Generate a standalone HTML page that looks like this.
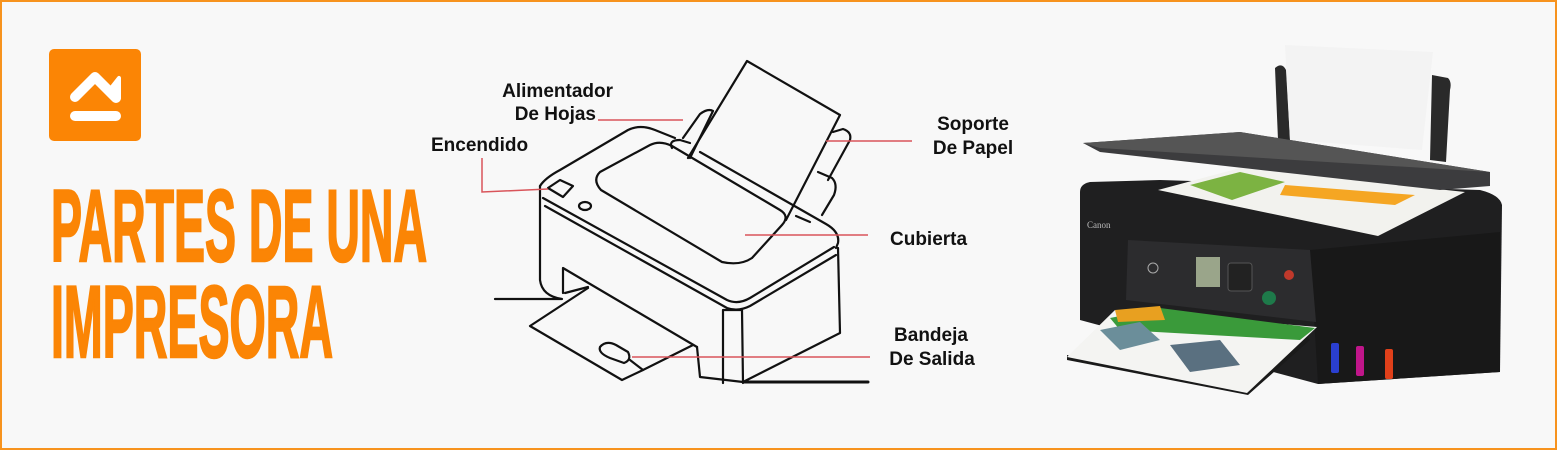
<!DOCTYPE html>
<html><head><meta charset="utf-8"><style>
html,body{margin:0;padding:0;background:#f8f8f8}
svg{display:block}
.lb{font-family:"Liberation Sans",sans-serif;font-weight:bold;font-size:19px;fill:#111}
</style></head><body>
<svg width="1557" height="450" viewBox="0 0 1557 450" xmlns="http://www.w3.org/2000/svg">
<rect x="1" y="1" width="1555" height="448" fill="#f8f8f8" stroke="#f7931e" stroke-width="2"/>
<!-- logo -->
<rect x="49" y="49" width="92" height="92" rx="5" fill="#fb8505"/>
<path d="M75 97 L95 77 L116 98" fill="none" stroke="#fff" stroke-width="10" stroke-linecap="round" stroke-linejoin="round"/>
<path d="M119 78 L119 98 L108 92 Z" fill="#fff" stroke="#fff" stroke-width="4" stroke-linejoin="round"/>
<line x1="75" y1="116" x2="116" y2="116" stroke="#fff" stroke-width="10" stroke-linecap="round"/>
<!-- title -->
<text x="51" y="261" textLength="376" lengthAdjust="spacingAndGlyphs" font-family="Liberation Sans Narrow, Liberation Sans, sans-serif" font-weight="bold" font-size="102" fill="#fb8505" stroke="#fb8505" stroke-width="2.5">PARTES DE UNA</text>
<text x="51" y="357" textLength="282" lengthAdjust="spacingAndGlyphs" font-family="Liberation Sans Narrow, Liberation Sans, sans-serif" font-weight="bold" font-size="102" fill="#fb8505" stroke="#fb8505" stroke-width="2.5">IMPRESORA</text>

<!-- line drawing printer -->
<g fill="none" stroke="#111" stroke-width="2.2" stroke-linejoin="round" stroke-linecap="round">
<path d="M688 158 L747 61 L840 115 L786 220"/>
<path d="M683 138 L700 114 Q708 108 713 111 L690 158"/>
<path d="M672 148 Q668 140 680 140 L690 143"/>
<path d="M833 132 L843 129 Q852 132 850 140 L828 180"/>
<path d="M818 172 L832 178 Q838 184 834 195 L822 215"/>
<path d="M796 216 L810 222"/>
<path d="M540 186 Q545 178 560 170 L628 130 Q640 124 655 130 L675 138"/>
<path d="M700 152 L826 224 Q840 232 838 243 L836 248"/>
<path d="M543 198 L727 300 Q738 305 750 298 L834 247"/>
<path d="M545 206 L727 308 Q738 312 750 306 L836 255"/>
<path d="M601 190 Q592 180 600 172 L650 145 Q660 140 672 146 L780 210 Q790 216 782 225 L752 258 Q740 266 722 262 Z"/>
<path d="M548 188 L560 180 L573 186 L563 197 Z"/>
<ellipse cx="585" cy="206" rx="6" ry="4"/>
<path d="M540 186 L540 280 Q542 296 562 299 L495 299"/>
<path d="M563 293 L563 268 L697 347"/>
<path d="M565 293 L588 287"/>
<path d="M588 288 L530 326 L622 380 L643 370 L693 345"/>
<path d="M600 347 Q606 340 616 345 L628 352 Q632 360 624 363 L610 358 Q598 353 600 347 Z"/>
<path d="M643 370 L630 360"/>
<path d="M838 248 L840 333 L743 382 L700 377 L697 347"/>
<path d="M723 383 L723 310 L742 310 L743 383"/>
<path d="M743 382 L868 382" stroke-width="3"/>
</g>
<g stroke="#d9545a" stroke-width="1.5" fill="none">
<path d="M598 120 L683 120"/>
<path d="M482 158 L482 192 L548 189"/>
<path d="M826 141 L912 141"/>
<path d="M745 235 L868 235"/>
<path d="M632 357 L870 357"/>
</g>
<text class="lb" x="613" y="97" text-anchor="end">Alimentador</text>
<text class="lb" x="596" y="120" text-anchor="end">De Hojas</text>
<text class="lb" x="431" y="151">Encendido</text>
<text class="lb" x="973" y="130" text-anchor="middle">Soporte</text>
<text class="lb" x="973" y="154" text-anchor="middle">De Papel</text>
<text class="lb" x="890" y="245">Cubierta</text>
<text class="lb" x="931" y="341" text-anchor="middle">Bandeja</text>
<text class="lb" x="932" y="365" text-anchor="middle">De Salida</text>

<!-- photo printer -->
<g>
<path d="M1275 68 Q1282 62 1286 70 L1290 140 L1278 140 Z" fill="#2a2a2a"/>
<path d="M1432 75 L1448 78 Q1452 82 1450 90 L1446 162 L1430 160 Z" fill="#2a2a2a"/>
<path d="M1285 45 L1433 52 L1422 150 L1290 140 Z" fill="#f3f3f3"/>
<path d="M1080 192 Q1080 184 1090 182 L1160 180 L1480 190 Q1500 195 1502 205 L1500 372 L1318 384 L1080 320 Z" fill="#1f1f20"/>
<path d="M1310 250 L1500 232 L1500 372 L1318 384 Z" fill="#181818"/>
<path d="M1158 190 L1240 168 L1465 192 L1378 236 Z" fill="#f2f2ee"/>
<path d="M1190 185 L1240 172 L1285 182 L1232 200 Z" fill="#7cb342"/>
<path d="M1285 185 L1415 195 L1395 205 L1280 195 Z" fill="#f5a623"/>
<path d="M1083 143 L1240 132 L1490 172 L1490 186 L1440 190 L1100 152 Z" fill="#3c3c3e"/>
<path d="M1083 143 L1240 132 L1490 172 L1100 148 Z" fill="#555"/>
<path d="M1128 240 L1310 250 L1316 322 L1126 300 Z" fill="#2c2c2e"/>
<rect x="1196" y="257" width="24" height="30" fill="#9aa58a"/>
<circle cx="1153" cy="268" r="5" fill="none" stroke="#aaa" stroke-width="1"/>
<circle cx="1289" cy="275" r="5" fill="#c0392b"/>
<circle cx="1269" cy="298" r="7" fill="#1e7a4a"/>
<rect x="1228" y="263" width="24" height="28" rx="3" fill="#222" stroke="#555"/>
<text x="1087" y="228" font-family="Liberation Serif,serif" font-size="9" fill="#bbb">Canon</text>
<path d="M1067 360 L1248 395 L1310 340 L1305 335 L1240 390 L1067 355 Z" fill="#1a1a1a"/>
<path d="M1067 357 L1115 310 L1317 327 L1247 393 Z" fill="#f4f4f2"/>
<path d="M1110 318 L1160 308 L1315 328 L1300 340 L1120 330 Z" fill="#3a9a3a"/>
<path d="M1100 330 L1140 322 L1160 340 L1120 350 Z" fill="#6b8e9a"/>
<path d="M1170 345 L1220 340 L1240 365 L1190 372 Z" fill="#5a7080"/>
<path d="M1115 310 L1160 306 L1165 320 L1118 322 Z" fill="#e8a020"/>
<rect x="1331" y="343" width="8" height="30" rx="2" fill="#2a3fd0"/>
<rect x="1356" y="346" width="8" height="30" rx="2" fill="#c0168a"/>
<rect x="1385" y="349" width="8" height="30" rx="2" fill="#e0401a"/>
</g>
</svg>
</body></html>
